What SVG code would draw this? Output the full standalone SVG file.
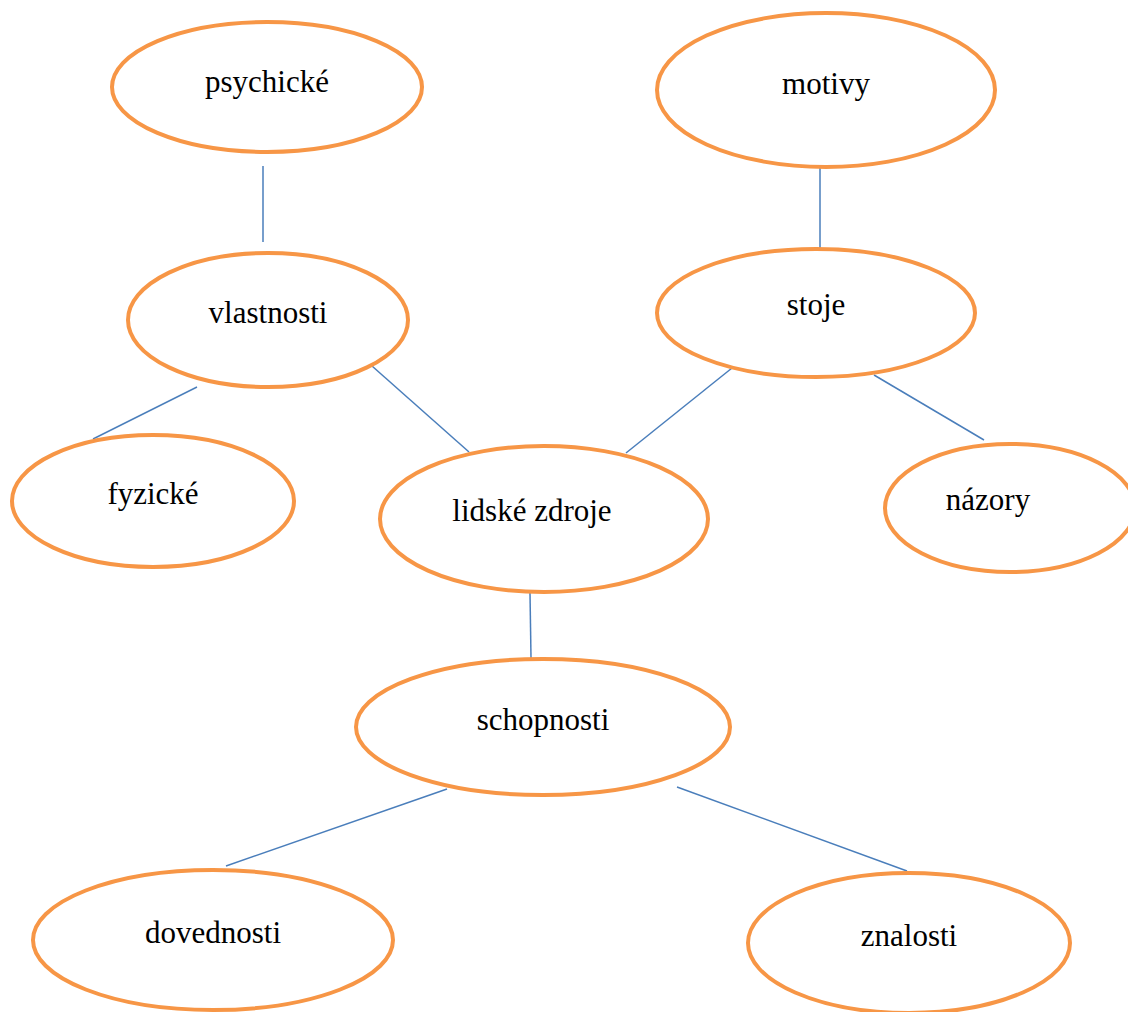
<svg xmlns="http://www.w3.org/2000/svg" width="1128" height="1012" viewBox="0 0 1128 1012">
<style>
.n ellipse{fill:#fff;stroke:#F79646;stroke-width:4}
.n text{font-family:"Liberation Serif",serif;font-size:31px;fill:#000;text-anchor:middle}
#edges line{stroke:#4A7EBB;stroke-width:1.5}
</style>
<rect width="1128" height="1012" fill="#fff"/>
<g id="edges">
<line x1="263" y1="166" x2="263" y2="242"/>
<line x1="820" y1="166" x2="820" y2="248"/>
<line x1="197" y1="387" x2="93" y2="439"/>
<line x1="372" y1="366" x2="469" y2="452"/>
<line x1="732" y1="368" x2="626" y2="453"/>
<line x1="874" y1="375" x2="984" y2="440"/>
<line x1="530" y1="593" x2="531" y2="658"/>
<line x1="447" y1="789" x2="226" y2="866"/>
<line x1="677" y1="787" x2="907" y2="871"/>
</g>
<g id="psychicke" class="n"><ellipse cx="267" cy="87" rx="155" ry="65"/><text x="267" y="92">psychické</text></g>
<g id="motivy" class="n"><ellipse cx="826" cy="90" rx="169" ry="77"/><text x="826" y="94">motivy</text></g>
<g id="vlastnosti" class="n"><ellipse cx="268" cy="320" rx="140" ry="67"/><text x="268" y="323">vlastnosti</text></g>
<g id="stoje" class="n"><ellipse cx="816" cy="313" rx="159" ry="64"/><text x="816" y="315">stoje</text></g>
<g id="fyzicke" class="n"><ellipse cx="153" cy="501" rx="141" ry="66"/><text x="153" y="504">fyzické</text></g>
<g id="lidske-zdroje" class="n"><ellipse cx="544" cy="519" rx="164" ry="73"/><text x="532" y="521">lidské zdroje</text></g>
<g id="nazory" class="n"><ellipse cx="1010" cy="508" rx="125" ry="64"/><text x="988" y="510">názory</text></g>
<g id="schopnosti" class="n"><ellipse cx="543" cy="727" rx="187" ry="68"/><text x="543" y="730">schopnosti</text></g>
<g id="dovednosti" class="n"><ellipse cx="213" cy="940" rx="180" ry="70"/><text x="213" y="943">dovednosti</text></g>
<g id="znalosti" class="n"><ellipse cx="909" cy="943" rx="161" ry="70"/><text x="909" y="946">znalosti</text></g>
</svg>
